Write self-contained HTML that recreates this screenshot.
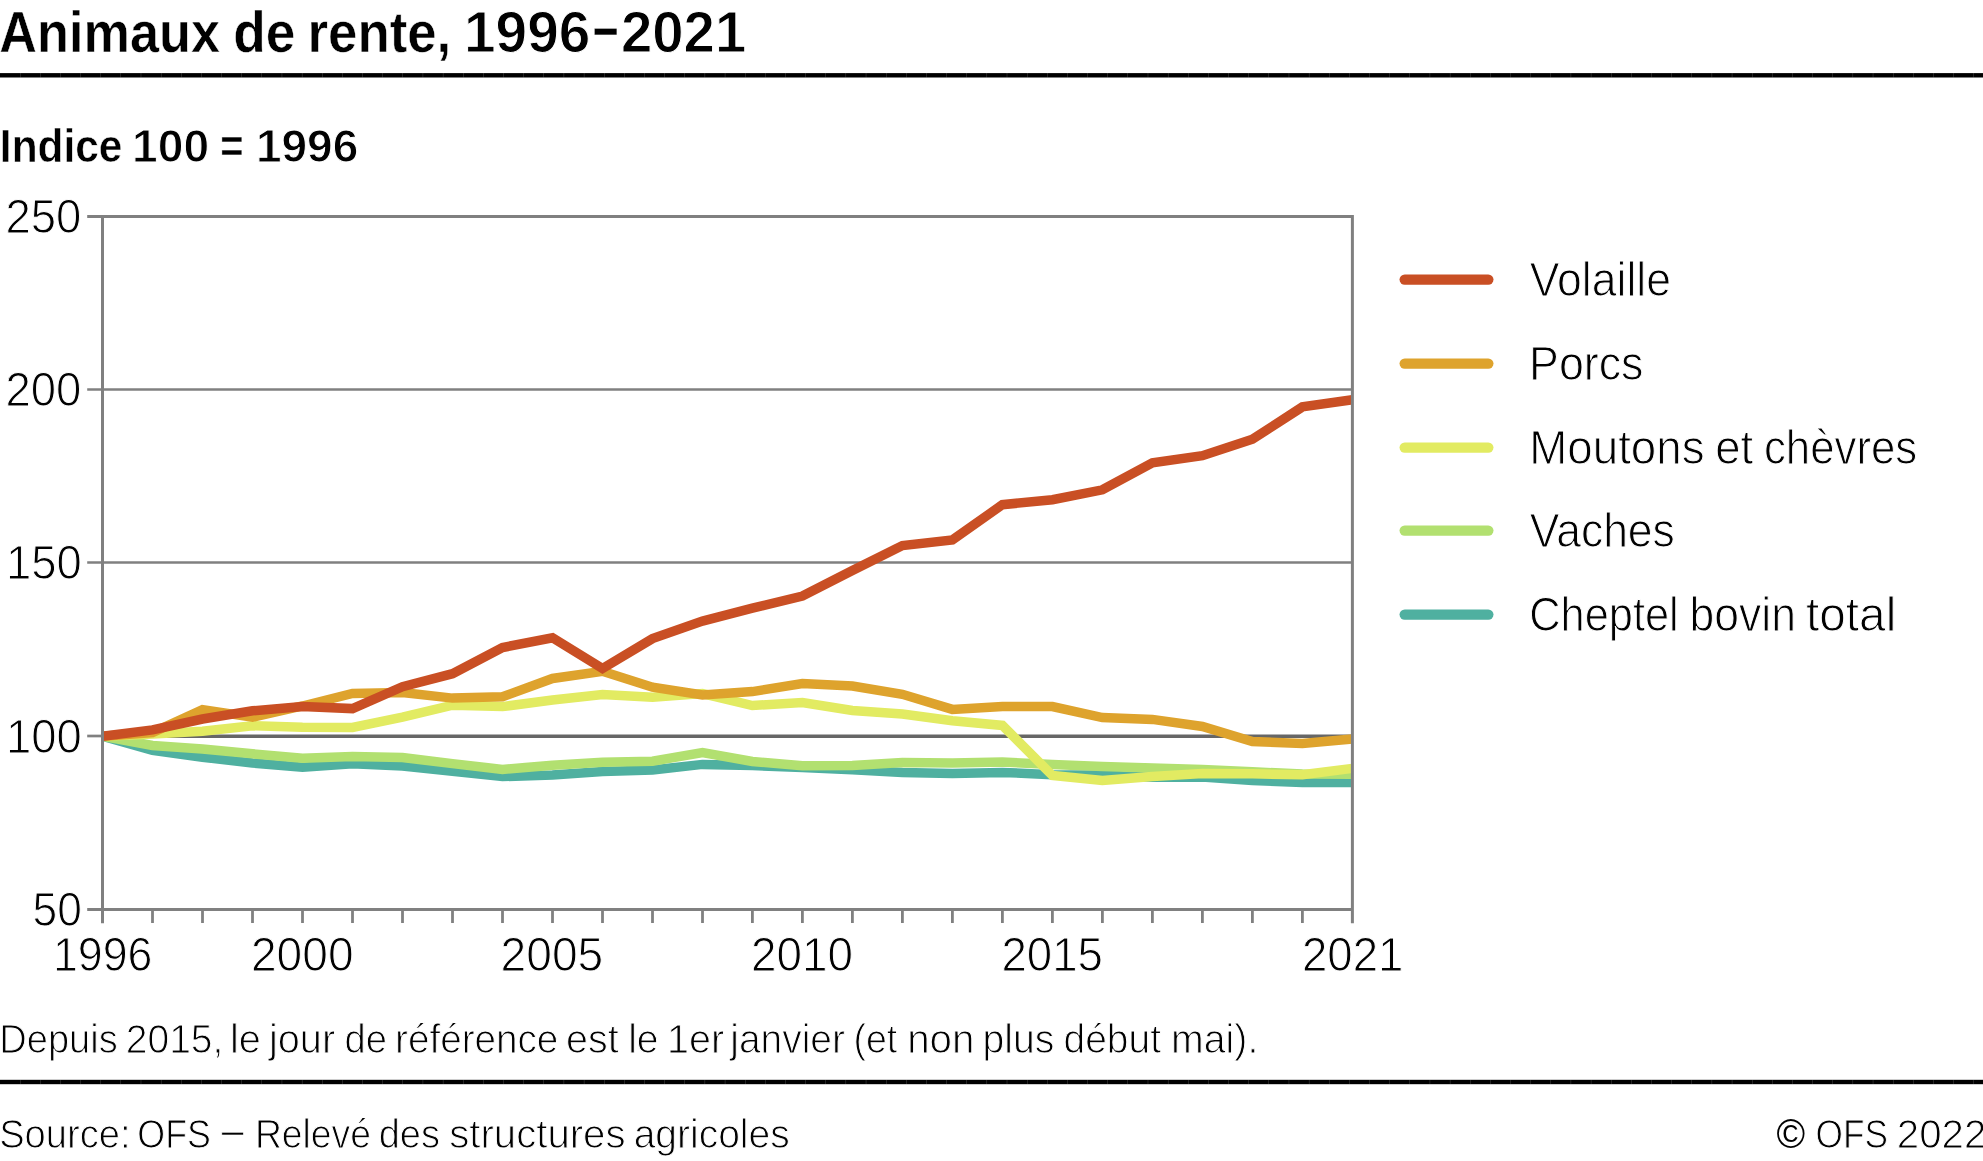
<!DOCTYPE html>
<html lang="fr">
<head>
<meta charset="utf-8">
<title>Animaux de rente, 1996–2021</title>
<style>
html,body{margin:0;padding:0;background:#fff;}
body{width:1983px;height:1161px;overflow:hidden;}
svg{display:block;}
text{font-family:"Liberation Sans",sans-serif;fill:#000;}
.lt{stroke:#fff;stroke-width:1.0px;}
.lt2{stroke:#fff;stroke-width:0.7px;}
.md{font-weight:bold;stroke:#fff;stroke-width:0.5px;}
.mdd{font-weight:bold;stroke:#fff;stroke-width:1.0px;}
</style>
</head>
<body>
<svg width="1983" height="1161" viewBox="0 0 1983 1161">
<rect width="1983" height="1161" fill="#fff"/>
<rect x="0" y="73.1" width="1983" height="4.4" fill="#000"/>
<rect x="0" y="1079.8" width="1983" height="4.4" fill="#000"/>
<line x1="20.0" y1="75.3" x2="1983" y2="75.3" stroke="#fff" stroke-opacity="0.45" stroke-width="4.6" stroke-dasharray="0.3 19.84"/>
<line x1="20.0" y1="1082.0" x2="1983" y2="1082.0" stroke="#fff" stroke-opacity="0.45" stroke-width="4.6" stroke-dasharray="0.3 19.84"/>
<line x1="87.2" y1="216.6" x2="1352.4" y2="216.6" stroke="#808080" stroke-width="3.0"/>
<line x1="87.2" y1="389.5" x2="1352.4" y2="389.5" stroke="#808080" stroke-width="2.7"/>
<line x1="87.2" y1="562.5" x2="1352.4" y2="562.5" stroke="#808080" stroke-width="2.7"/>
<line x1="87.2" y1="909.5" x2="1352.4" y2="909.5" stroke="#808080" stroke-width="3.0"/>
<line x1="87.2" y1="736.0" x2="102.5" y2="736.0" stroke="#808080" stroke-width="2.7"/>
<line x1="102.5" y1="736.2" x2="1352.4" y2="736.2" stroke="#666" stroke-width="3.6"/>
<clipPath id="cp"><rect x="102.5" y="200" width="1249.9" height="720"/></clipPath>
<g clip-path="url(#cp)" fill="none" stroke-linejoin="miter" stroke-linecap="butt" stroke-width="9.5">
<polyline points="102.5,736.3 152.5,750.4 202.5,757.2 252.5,763.0 302.5,767.3 352.5,763.8 402.5,766.0 452.5,771.4 502.5,776.6 552.5,774.9 602.5,771.4 652.5,770.0 702.5,764.4 752.4,765.5 802.4,767.5 852.4,769.8 902.4,772.4 952.4,773.5 1002.4,772.4 1052.4,774.7 1102.4,775.1 1152.4,777.2 1202.4,777.1 1252.4,780.6 1302.4,782.4 1352.4,782.4" stroke="#4fb0a0"/>
<polyline points="102.5,736.3 152.5,745.5 202.5,749.0 252.5,753.8 302.5,758.3 352.5,756.5 402.5,757.6 452.5,763.6 502.5,769.4 552.5,765.2 602.5,762.3 652.5,761.2 702.5,752.5 752.4,761.5 802.4,765.8 852.4,765.4 902.4,762.4 952.4,763.1 1002.4,762.1 1052.4,764.5 1102.4,766.4 1152.4,767.9 1202.4,769.6 1252.4,771.8 1302.4,774.0 1352.4,774.2" stroke="#b2e070"/>
<polyline points="102.5,736.3 152.5,734.0 202.5,731.3 252.5,725.8 302.5,727.2 352.5,727.4 402.5,717.2 452.5,705.2 502.5,706.6 552.5,700.0 602.5,694.6 652.5,697.3 702.5,693.6 752.4,705.5 802.4,702.6 852.4,710.5 902.4,714.1 952.4,720.7 1002.4,725.4 1052.4,775.5 1102.4,780.5 1152.4,776.6 1202.4,773.4 1252.4,773.8 1302.4,774.8 1352.4,768.4" stroke="#e2eb62"/>
<polyline points="102.5,736.3 152.5,732.5 202.5,709.6 252.5,717.2 302.5,706.0 352.5,693.4 402.5,692.5 452.5,698.1 502.5,696.7 552.5,678.5 602.5,671.3 652.5,687.2 702.5,695.0 752.4,691.6 802.4,683.6 852.4,686.1 902.4,694.3 952.4,709.4 1002.4,706.6 1052.4,706.6 1102.4,717.6 1152.4,719.4 1202.4,726.5 1252.4,741.6 1302.4,743.4 1352.4,739.1" stroke="#dea32d"/>
<polyline points="102.5,736.3 152.5,729.9 202.5,719.0 252.5,710.8 302.5,706.6 352.5,708.6 402.5,686.7 452.5,673.7 502.5,647.5 552.5,637.8 602.5,668.5 652.5,638.6 702.5,621.1 752.4,608.1 802.4,596.1 852.4,570.5 902.4,545.6 952.4,540.0 1002.4,504.7 1052.4,499.7 1102.4,489.8 1152.4,462.9 1202.4,455.7 1252.4,439.3 1302.4,406.9 1352.4,399.7" stroke="#c94f24"/>
</g>
<line x1="102.5" y1="215.1" x2="102.5" y2="923.2" stroke="#808080" stroke-width="3.0"/>
<line x1="1352.4" y1="215.1" x2="1352.4" y2="923.2" stroke="#808080" stroke-width="3.0"/>
<line x1="152.5" y1="909.5" x2="152.5" y2="923" stroke="#808080" stroke-width="2.8"/>
<line x1="202.5" y1="909.5" x2="202.5" y2="923" stroke="#808080" stroke-width="2.8"/>
<line x1="252.5" y1="909.5" x2="252.5" y2="923" stroke="#808080" stroke-width="2.8"/>
<line x1="302.5" y1="909.5" x2="302.5" y2="923" stroke="#808080" stroke-width="2.8"/>
<line x1="352.5" y1="909.5" x2="352.5" y2="923" stroke="#808080" stroke-width="2.8"/>
<line x1="402.5" y1="909.5" x2="402.5" y2="923" stroke="#808080" stroke-width="2.8"/>
<line x1="452.5" y1="909.5" x2="452.5" y2="923" stroke="#808080" stroke-width="2.8"/>
<line x1="502.5" y1="909.5" x2="502.5" y2="923" stroke="#808080" stroke-width="2.8"/>
<line x1="552.5" y1="909.5" x2="552.5" y2="923" stroke="#808080" stroke-width="2.8"/>
<line x1="602.5" y1="909.5" x2="602.5" y2="923" stroke="#808080" stroke-width="2.8"/>
<line x1="652.5" y1="909.5" x2="652.5" y2="923" stroke="#808080" stroke-width="2.8"/>
<line x1="702.5" y1="909.5" x2="702.5" y2="923" stroke="#808080" stroke-width="2.8"/>
<line x1="752.4" y1="909.5" x2="752.4" y2="923" stroke="#808080" stroke-width="2.8"/>
<line x1="802.4" y1="909.5" x2="802.4" y2="923" stroke="#808080" stroke-width="2.8"/>
<line x1="852.4" y1="909.5" x2="852.4" y2="923" stroke="#808080" stroke-width="2.8"/>
<line x1="902.4" y1="909.5" x2="902.4" y2="923" stroke="#808080" stroke-width="2.8"/>
<line x1="952.4" y1="909.5" x2="952.4" y2="923" stroke="#808080" stroke-width="2.8"/>
<line x1="1002.4" y1="909.5" x2="1002.4" y2="923" stroke="#808080" stroke-width="2.8"/>
<line x1="1052.4" y1="909.5" x2="1052.4" y2="923" stroke="#808080" stroke-width="2.8"/>
<line x1="1102.4" y1="909.5" x2="1102.4" y2="923" stroke="#808080" stroke-width="2.8"/>
<line x1="1152.4" y1="909.5" x2="1152.4" y2="923" stroke="#808080" stroke-width="2.8"/>
<line x1="1202.4" y1="909.5" x2="1202.4" y2="923" stroke="#808080" stroke-width="2.8"/>
<line x1="1252.4" y1="909.5" x2="1252.4" y2="923" stroke="#808080" stroke-width="2.8"/>
<line x1="1302.4" y1="909.5" x2="1302.4" y2="923" stroke="#808080" stroke-width="2.8"/>
<line x1="1404.7" y1="279.6" x2="1488.3" y2="279.6" stroke="#c94f24" stroke-width="10.4" stroke-linecap="round"/>
<line x1="1404.7" y1="363.6" x2="1488.3" y2="363.6" stroke="#dea32d" stroke-width="10.4" stroke-linecap="round"/>
<line x1="1404.7" y1="447.6" x2="1488.3" y2="447.6" stroke="#e2eb62" stroke-width="10.4" stroke-linecap="round"/>
<line x1="1404.7" y1="530.6" x2="1488.3" y2="530.6" stroke="#b2e070" stroke-width="10.4" stroke-linecap="round"/>
<line x1="1404.7" y1="614.6" x2="1488.3" y2="614.6" stroke="#4fb0a0" stroke-width="10.4" stroke-linecap="round"/>
<g id="txt" style="will-change:opacity;opacity:0.999">
<text><tspan class="md" x="-0.67" y="51.8" font-size="57.5" textLength="220.64" lengthAdjust="spacingAndGlyphs">Animaux</tspan> <tspan class="md" x="233.22" y="51.8" font-size="57.5" textLength="62.10" lengthAdjust="spacingAndGlyphs">de</tspan> <tspan class="md" x="307.59" y="51.8" font-size="57.5" textLength="143.66" lengthAdjust="spacingAndGlyphs">rente,</tspan> <tspan class="mdd" x="464.05" y="51.8" font-size="57.5" textLength="126.25" lengthAdjust="spacingAndGlyphs">1996</tspan><tspan class="md" x="592.99" y="50.2" font-size="69" textLength="25.32" lengthAdjust="spacingAndGlyphs">–</tspan><tspan class="mdd" x="620.95" y="51.8" font-size="57.5" textLength="125.28" lengthAdjust="spacingAndGlyphs">2021</tspan></text>
<text><tspan class="md" x="-0.13" y="161.7" font-size="46.1" textLength="122.58" lengthAdjust="spacingAndGlyphs">Indice</tspan> <tspan class="mdd" x="132.07" y="161.7" font-size="46.1" textLength="77.08" lengthAdjust="spacingAndGlyphs">100</tspan> <tspan class="md" x="220.16" y="161.7" font-size="46.1" textLength="23.29" lengthAdjust="spacingAndGlyphs">=</tspan> <tspan class="mdd" x="255.90" y="161.7" font-size="46.1" textLength="102.43" lengthAdjust="spacingAndGlyphs">1996</tspan></text>
<text><tspan class="lt" x="5.48" y="232.9" font-size="47.5" textLength="75.85" lengthAdjust="spacingAndGlyphs">250</tspan></text>
<text><tspan class="lt" x="5.48" y="405.8" font-size="47.5" textLength="75.85" lengthAdjust="spacingAndGlyphs">200</tspan></text>
<text><tspan class="lt" x="6.09" y="578.8" font-size="47.5" textLength="75.79" lengthAdjust="spacingAndGlyphs">150</tspan></text>
<text><tspan class="lt" x="6.09" y="752.5" font-size="47.5" textLength="75.79" lengthAdjust="spacingAndGlyphs">100</tspan></text>
<text><tspan class="lt" x="32.59" y="925.8" font-size="47.5" textLength="49.34" lengthAdjust="spacingAndGlyphs">50</tspan></text>
<text><tspan class="lt" x="52.90" y="971.0" font-size="47.5" textLength="99.48" lengthAdjust="spacingAndGlyphs">1996</tspan></text>
<text><tspan class="lt" x="250.96" y="971.0" font-size="47.5" textLength="102.60" lengthAdjust="spacingAndGlyphs">2000</tspan></text>
<text><tspan class="lt" x="500.62" y="971.0" font-size="47.5" textLength="102.65" lengthAdjust="spacingAndGlyphs">2005</tspan></text>
<text><tspan class="lt" x="750.89" y="971.0" font-size="47.5" textLength="102.03" lengthAdjust="spacingAndGlyphs">2010</tspan></text>
<text><tspan class="lt" x="1001.40" y="971.0" font-size="47.5" textLength="101.59" lengthAdjust="spacingAndGlyphs">2015</tspan></text>
<text><tspan class="lt" x="1301.96" y="971.0" font-size="47.5" textLength="101.45" lengthAdjust="spacingAndGlyphs">2021</tspan></text>
<text><tspan class="lt" x="1529.82" y="295.5" font-size="47.5" textLength="141.13" lengthAdjust="spacingAndGlyphs">Volaille</tspan></text>
<text><tspan class="lt" x="1529.12" y="379.5" font-size="47.5" textLength="114.37" lengthAdjust="spacingAndGlyphs">Porcs</tspan></text>
<text><tspan class="lt" x="1529.26" y="463.5" font-size="47.5" textLength="175.30" lengthAdjust="spacingAndGlyphs">Moutons</tspan> <tspan class="lt" x="1715.13" y="463.5" font-size="47.5" textLength="37.96" lengthAdjust="spacingAndGlyphs">et</tspan> <tspan class="lt" x="1763.88" y="463.5" font-size="47.5" textLength="153.36" lengthAdjust="spacingAndGlyphs">chèvres</tspan></text>
<text><tspan class="lt" x="1529.81" y="546.5" font-size="47.5" textLength="145.06" lengthAdjust="spacingAndGlyphs">Vaches</tspan></text>
<text><tspan class="lt" x="1529.19" y="630.5" font-size="47.5" textLength="149.54" lengthAdjust="spacingAndGlyphs">Cheptel</tspan> <tspan class="lt" x="1689.54" y="630.5" font-size="47.5" textLength="106.38" lengthAdjust="spacingAndGlyphs">bovin</tspan> <tspan class="lt" x="1806.10" y="630.5" font-size="47.5" textLength="90.16" lengthAdjust="spacingAndGlyphs">total</tspan></text>
<text><tspan class="lt" x="-0.72" y="1052.5" font-size="40.0" textLength="118.43" lengthAdjust="spacingAndGlyphs">Depuis</tspan> <tspan class="lt" x="125.83" y="1052.5" font-size="40.0" textLength="97.55" lengthAdjust="spacingAndGlyphs">2015,</tspan> <tspan class="lt" x="230.06" y="1052.5" font-size="40.0" textLength="30.83" lengthAdjust="spacingAndGlyphs">le</tspan> <tspan class="lt" x="269.00" y="1052.5" font-size="40.0" textLength="66.13" lengthAdjust="spacingAndGlyphs">jour</tspan> <tspan class="lt" x="344.55" y="1052.5" font-size="40.0" textLength="42.44" lengthAdjust="spacingAndGlyphs">de</tspan> <tspan class="lt" x="395.09" y="1052.5" font-size="40.0" textLength="163.26" lengthAdjust="spacingAndGlyphs">référence</tspan> <tspan class="lt" x="566.11" y="1052.5" font-size="40.0" textLength="52.60" lengthAdjust="spacingAndGlyphs">est</tspan> <tspan class="lt" x="628.17" y="1052.5" font-size="40.0" textLength="30.39" lengthAdjust="spacingAndGlyphs">le</tspan> <tspan class="lt" x="667.05" y="1052.5" font-size="40.0" textLength="56.99" lengthAdjust="spacingAndGlyphs">1er</tspan> <tspan class="lt" x="730.31" y="1052.5" font-size="40.0" textLength="114.64" lengthAdjust="spacingAndGlyphs">janvier</tspan> <tspan class="lt" x="853.50" y="1052.5" font-size="40.0" textLength="43.76" lengthAdjust="spacingAndGlyphs">(et</tspan> <tspan class="lt" x="907.16" y="1052.5" font-size="40.0" textLength="67.19" lengthAdjust="spacingAndGlyphs">non</tspan> <tspan class="lt" x="982.51" y="1052.5" font-size="40.0" textLength="71.86" lengthAdjust="spacingAndGlyphs">plus</tspan> <tspan class="lt" x="1063.53" y="1052.5" font-size="40.0" textLength="97.49" lengthAdjust="spacingAndGlyphs">début</tspan> <tspan class="lt" x="1171.12" y="1052.5" font-size="40.0" textLength="87.19" lengthAdjust="spacingAndGlyphs">mai).</tspan></text>
<text><tspan class="lt" x="-0.87" y="1147.5" font-size="40.0" textLength="131.46" lengthAdjust="spacingAndGlyphs">Source:</tspan> <tspan class="lt" x="137.30" y="1147.5" font-size="40.0" textLength="73.66" lengthAdjust="spacingAndGlyphs">OFS</tspan> <tspan class="lt2" x="221.79" y="1143.8" font-size="40.0" textLength="21.85" lengthAdjust="spacingAndGlyphs">–</tspan> <tspan class="lt" x="254.88" y="1147.5" font-size="40.0" textLength="116.11" lengthAdjust="spacingAndGlyphs">Relevé</tspan> <tspan class="lt" x="378.68" y="1147.5" font-size="40.0" textLength="61.30" lengthAdjust="spacingAndGlyphs">des</tspan> <tspan class="lt" x="449.24" y="1147.5" font-size="40.0" textLength="176.24" lengthAdjust="spacingAndGlyphs">structures</tspan> <tspan class="lt" x="633.64" y="1147.5" font-size="40.0" textLength="156.10" lengthAdjust="spacingAndGlyphs">agricoles</tspan></text>
<text><tspan class="lt0" x="1776.44" y="1147.5" font-size="40.0" textLength="28.64" lengthAdjust="spacingAndGlyphs">©</tspan> <tspan class="lt" x="1815.62" y="1147.5" font-size="40.0" textLength="72.50" lengthAdjust="spacingAndGlyphs">OFS</tspan> <tspan class="lt" x="1896.80" y="1147.5" font-size="40.0" textLength="89.51" lengthAdjust="spacingAndGlyphs">2022</tspan></text>
</g>
</svg>
</body>
</html>
